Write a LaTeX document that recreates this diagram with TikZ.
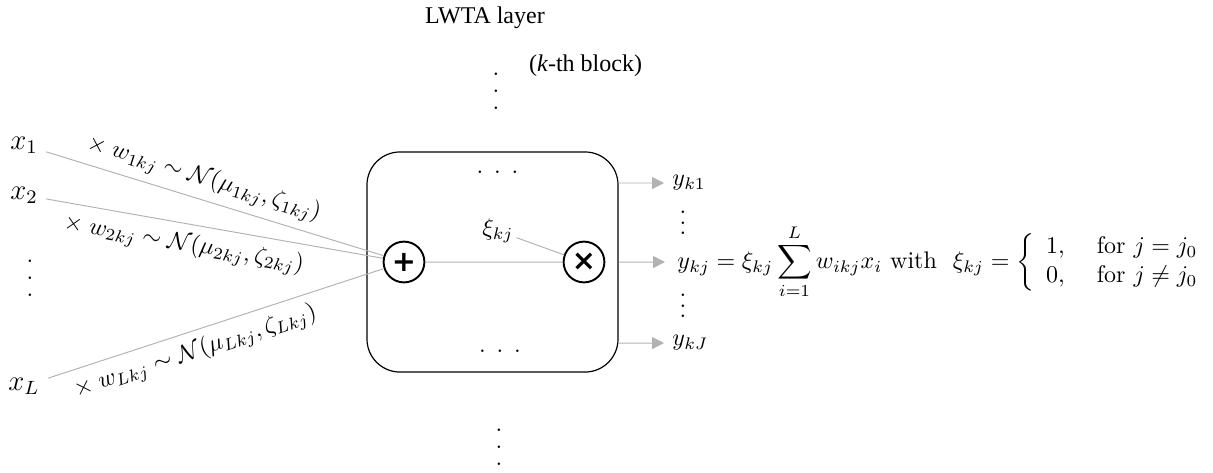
\documentclass[tikz,border=0pt]{standalone}
\usepackage{amsmath,amssymb}
\usepackage[no-math]{fontspec}
\newfontfamily\timesfont{Liberation Serif}
\newfontfamily\opfont{DejaVu Sans}
\usetikzlibrary{arrows.meta}
\newcommand{\colvdots}[1]{\vbox{\baselineskip#1\lineskiplimit0pt\hbox{.}\hbox{.}\hbox{.}}}
\newcommand{\rowdots}{.\hspace{4.5pt}.\hspace{4.5pt}.}

\begin{document}
\begin{tikzpicture}[auto,scale=0.14646]
\tikzset{op/.style={circle,draw,thick,minimum size=17pt,inner sep=0pt,font=\opfont\bfseries\fontsize{12}{14}\selectfont}}
\tikzset{wire/.style={draw=gray!60}}
\tikzset{outarrow/.style={gray!60,-{Triangle[length=5pt,width=5pt]}}}
\useasboundingbox (0,0) rectangle (121.3,-47.2);
\node[anchor=base] (title) at (48.5,-2.3) {\timesfont LWTA layer};
\node[anchor=base] (kth) at (58.55,-7.1) {\timesfont (\textit{k}-th block)};
\node (topdots) at (49.6,-9.15) {\colvdots{7pt}};
\node[draw,line width=0.5pt,rounded corners=13.75pt,minimum width=104.6pt,minimum height=91.7pt] (lwta) at (49.25,-26.2) {};
\node (updots) at (49.75,-17.2) {\rowdots};
\node (lowdots) at (50,-35.1) {\rowdots};
\node[op] (plus) at (40.4,-26.2) {+};
\node[op] (times) at (58.4,-26.2) {×};
\node[inner sep=1pt] (xi) at (49.8,-23.1) {$\xi_{kj}$};
\node (botdots) at (49.9,-44.7) {\colvdots{7pt}};
\node (x1) at (2.4,-14.5) {\large $x_1$};
\node (x2) at (2.4,-19.5) {\large $x_2$};
\node (xdots) at (3,-27.8) {\colvdots{7pt}};
\node (xL) at (2.4,-38.6) {\large $x_L$};
\node[anchor=west] (yk1) at (66.4,-18.3) {$y_{k1}$};
\node[anchor=west] (ykJ) at (66.4,-34.3) {$y_{kJ}$};
\node[anchor=west,inner xsep=5pt] (ykj) at (66.5,-26.2) {$\displaystyle y_{kj} = \xi_{kj} \sum_{i=1}^{L} w_{ikj} x_i \text{ with }\ \xi_{kj} = \left\{ \begin{array}{ll} 1, & \text{ for } j = j_0 \\ 0, & \text{ for } j \neq j_0 \end{array} \right.$};
\node[inner sep=0pt] (ydots1) at (68.3,-22.3) {\colvdots{4.4pt}};
\node[inner sep=0pt] (ydots2) at (68.3,-30.6) {\colvdots{4.4pt}};
\path (x1) edge[wire] node[sloped,pos=0.45] {$\times\; w_{1kj} \sim \mathcal{N}(\mu_{1kj}, \zeta_{1kj})$} (plus);
\path (x2) edge[wire] node[sloped,pos=0.42,swap] {$\times\; w_{2kj} \sim \mathcal{N}(\mu_{2kj}, \zeta_{2kj})$} (plus);
\path (xL) edge[wire] node[sloped,pos=0.42,swap] {$\times\; w_{Lkj} \sim \mathcal{N}(\mu_{Lkj}, \zeta_{Lkj})$} (plus);
\path (plus) edge[wire] (times);
\path (xi) edge[wire] (times);
\draw[outarrow] (lwta.east |- yk1) -- (yk1);
\draw[outarrow] (lwta.east |- ykj) -- (ykj);
\draw[outarrow] (lwta.east |- ykJ) -- (ykJ);
\end{tikzpicture}
\end{document}
